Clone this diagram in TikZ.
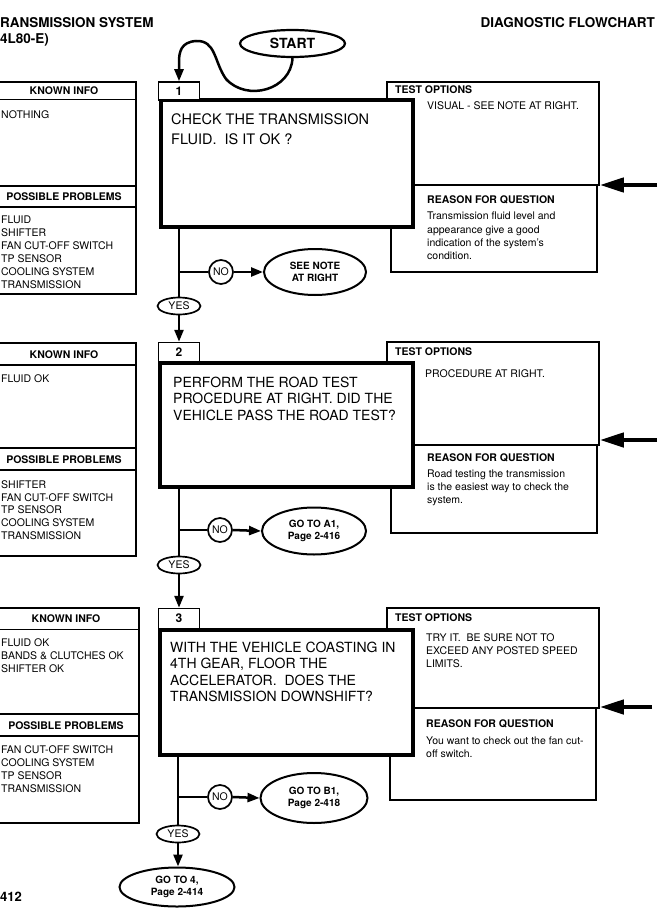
\documentclass[tikz,border=0pt]{standalone}
\usepackage{fontspec}
\setmainfont{TeX Gyre Heros}
\usetikzlibrary{shapes.geometric,arrows.meta,calc}
\newcommand\fsm{\fontsize{10.5}{13}\selectfont}
\newcommand\fhd{\fontsize{10.5}{13}\selectfont\bfseries}
\newcommand\fq{\fontsize{14}{16.3}\selectfont}
\newcommand\fqa{\fontsize{14.5}{20}\selectfont}
\newcommand\fel{\fontsize{10}{11.5}\selectfont\bfseries}
\newcommand\fti{\fontsize{13.5}{16.5}\selectfont\bfseries}
\tikzset{
  thinbox/.style={draw, line width=1.5pt},
  tbox/.style={draw, line width=1.5pt, inner sep=0pt, rectangle},
  qbox/.style={draw, line width=4.5pt, fill=white, inner sep=0pt, rectangle},
  tabbox/.style={draw, line width=1.5pt, fill=white, inner sep=0pt, rectangle, minimum width=41pt, font=\fontsize{12}{12}\selectfont\bfseries},
  hdr/.style={inner sep=0pt, font=\fhd},
  lst/.style={inner sep=0pt, anchor=north west, align=left, font=\fsm},
  qtext/.style={inner sep=0pt, anchor=north west, align=left},
  flow/.style={line width=2.5pt},
  tip/.style={-{Triangle[length=12pt,width=9pt]}},
  bigtip/.style={line width=4.2pt, -{Triangle[length=24pt,width=14pt]}},
  oval/.style={draw, ellipse, line width=2pt, inner sep=0pt, align=center, font=\fel},
  yesoval/.style={draw, ellipse, line width=1.7pt, inner sep=0pt, minimum width=43pt, minimum height=17pt, font=\fontsize{10.5}{10.5}\selectfont},
  nocirc/.style={draw, circle, line width=1.7pt, inner sep=0pt, minimum size=24pt, font=\fontsize{10.5}{10.5}\selectfont},
}
\begin{document}
\begin{tikzpicture}[x=1pt, y=-1pt]
\useasboundingbox (0,0) rectangle (667,920);
\clip (0,0) rectangle (667,920);

% titles
\node[inner sep=0pt, anchor=west, font=\fti] (title1) at (0,23) {RANSMISSION SYSTEM};
\node[inner sep=0pt, anchor=west, font=\fti] (title2) at (0,39.5) {4L80-E)};
\node[inner sep=0pt, anchor=east, font=\fti] (title3) at (655,23) {DIAGNOSTIC FLOWCHART};
\node[inner sep=0pt, anchor=west, font=\fontsize{13}{13}\selectfont\bfseries] (pg) at (0,897) {412};

% ---------- left info boxes ----------
% box 1
\draw[thinbox] (-8,82) rectangle (136,294);
\draw[thinbox] (-8,99.5) -- (136,99.5);
\draw[thinbox] (-8,186) rectangle (136,207);
\node[hdr] (k1) at (64,90.5) {KNOWN INFO};
\node[lst] (k1t) at (1,110.3) {NOTHING};
\node[hdr] (p1) at (64,197) {POSSIBLE PROBLEMS};
\node[lst] (p1t) at (1,215.2) {FLUID\\SHIFTER\\FAN CUT-OFF SWITCH\\TP SENSOR\\COOLING SYSTEM\\TRANSMISSION};
% box 2
\draw[thinbox] (-8,343) rectangle (136,556);
\draw[thinbox] (-8,365) -- (136,365);
\draw[thinbox] (-8,448) rectangle (136,470);
\node[hdr] (k2) at (64,354.5) {KNOWN INFO};
\node[lst] (k2t) at (1,374.2) {FLUID OK};
\node[hdr] (p2) at (64,459.5) {POSSIBLE PROBLEMS};
\node[lst, font=\fontsize{10.5}{12.8}\selectfont] (p2t) at (1,480.2) {SHIFTER\\FAN CUT-OFF SWITCH\\TP SENSOR\\COOLING SYSTEM\\TRANSMISSION};
% box 3
\draw[thinbox] (-8,608) rectangle (139,823);
\draw[thinbox] (-8,629.5) -- (139,629.5);
\draw[thinbox] (-8,714) rectangle (139,736);
\node[hdr] (k3) at (66,619) {KNOWN INFO};
\node[lst] (k3t) at (1,638.2) {FLUID OK\\BANDS \& CLUTCHES OK\\SHIFTER OK};
\node[hdr] (p3) at (66,725.5) {POSSIBLE PROBLEMS};
\node[lst] (p3t) at (1,745.2) {FAN CUT-OFF SWITCH\\COOLING SYSTEM\\TP SENSOR\\TRANSMISSION};

% ---------- test option / reason boxes ----------
\node[tbox, minimum width=212pt, minimum height=103pt] (t1) at (493,133.5) {};
\node[tbox, minimum width=206pt, minimum height=87pt] (r1) at (494,228.5) {};
\node[tbox, minimum width=212pt, minimum height=103pt] (t2) at (493,393.5) {};
\node[tbox, minimum width=206pt, minimum height=88pt] (r2) at (494,489) {};
\node[tbox, minimum width=212pt, minimum height=100pt] (t3) at (493,658) {};
\node[tbox, minimum width=206pt, minimum height=92pt] (r3) at (493,754) {};

\node[hdr, anchor=west] (t1h) at (395,90) {TEST OPTIONS};
\node[lst] (t1t) at (427,101.2) {VISUAL - SEE NOTE AT RIGHT.};
\node[hdr, anchor=west] (r1h) at (427,200) {REASON FOR QUESTION};
\node[lst, font=\fontsize{10.5}{13.3}\selectfont] (r1t) at (427,212) {Transmission fluid level and\\appearance give a good\\indication of the system's\\condition.};

\node[hdr, anchor=west] (t2h) at (395,352) {TEST OPTIONS};
\node[lst] (t2t) at (425,369.2) {PROCEDURE AT RIGHT.};
\node[hdr, anchor=west] (r2h) at (427,458) {REASON FOR QUESTION};
\node[lst, font=\fontsize{10.5}{12.7}\selectfont] (r2t) at (427,470) {Road testing the transmission\\is the easiest way to check the\\system.};

\node[hdr, anchor=west] (t3h) at (395,617.5) {TEST OPTIONS};
\node[lst] (t3t) at (426,633.2) {TRY IT.\ \ BE SURE NOT TO\\EXCEED ANY POSTED SPEED\\LIMITS.};
\node[hdr, anchor=west] (r3h) at (426,724) {REASON FOR QUESTION};
\node[lst] (r3t) at (426,737) {You want to check out the fan cut-\\off switch.};

% ---------- question boxes ----------
\node[qbox, minimum width=252pt, minimum height=127pt] (q1) at (287,163.5) {};
\node[qbox, minimum width=253pt, minimum height=124pt] (q2) at (286.5,425) {};
\node[qbox, minimum width=253pt, minimum height=125pt] (q3) at (286.5,692.5) {};

\node[qtext, font=\fqa] (q1t) at (171,113.2) {CHECK THE TRANSMISSION\\FLUID.\ \ IS IT OK ?};
\node[qtext, font=\fq] (q2t) at (173,377) {PERFORM THE ROAD TEST\\PROCEDURE AT RIGHT. DID THE\\VEHICLE PASS THE ROAD TEST?};
\node[qtext, font=\fq] (q3t) at (170,642) {WITH THE VEHICLE COASTING IN\\4TH GEAR, FLOOR THE\\ACCELERATOR.\ \ DOES THE\\TRANSMISSION DOWNSHIFT?};

% tabs
\node[tabbox, minimum height=18pt] (tab1) at (179,91) {1};
\node[tabbox, minimum height=19pt] (tab2) at (179,352) {2};
\node[tabbox, minimum height=20pt] (tab3) at (179,618.5) {3};

% right arrows
\coordinate (a1) at (657,185);
\coordinate (a2) at (657,440);
\coordinate (a3) at (652,707);
\draw[bigtip] (a1) -- (t1.east |- a1);
\draw[bigtip] (a2) -- (t2.east |- a2);
\draw[bigtip] (a3) -- (t3.east |- a3);

% start
\node[oval, minimum width=105pt, minimum height=27pt, line width=2.2pt, font=\fontsize{14}{14}\selectfont\bfseries] (start) at (292.5,43.5) {START};
\draw[flow, tip] (start.south) .. controls (291,90) and (247,102) .. (226,79)
   .. controls (214,62) and (216,40) .. (196,41)
   .. controls (181,42) and (179,52) .. (179,62) -- (tab1.north);

% flow 1
\node[yesoval] (yes1) at (179,306) {YES};
\node[nocirc] (no1) at (221,272) {NO};
\node[oval, minimum width=102pt, minimum height=46pt] (see) at (315,272) {SEE NOTE\\AT RIGHT};
\draw[flow] (q1.south -| yes1.north) -- (yes1.north);
\draw[flow] (no1.west) -- (no1.west -| yes1.north);
\draw[flow, tip] (no1.east) -- (see.west);
\draw[flow, tip] (yes1.south) -- (tab2.north);

% flow 2
\node[yesoval] (yes2) at (179,565) {YES};
\node[nocirc] (no2) at (220,530) {NO};
\node[oval, minimum width=104pt, minimum height=47pt] (ga1) at (314,531) {GO TO A1,\\Page 2-416};
\draw[flow] (q2.south -| yes2.north) -- (yes2.north);
\draw[flow] (no2.west) -- (no2.west -| yes2.north);
\draw[flow, tip] (no2.east) -- (ga1.west);
\draw[flow, tip] (yes2.south) -- (tab3.north);

% flow 3
\node[yesoval] (yes3) at (178,834) {YES};
\node[nocirc] (no3) at (220,797) {NO};
\node[oval, minimum width=107pt, minimum height=50pt] (gb1) at (314,798) {GO TO B1,\\Page 2-418};
\node[oval, minimum width=115pt, minimum height=39pt] (go4) at (177,887) {GO TO 4,\\Page 2-414};
\draw[flow] (q3.south -| yes3.north) -- (yes3.north);
\draw[flow] (no3.west) -- (no3.west -| yes3.north);
\draw[flow, tip] (no3.east) -- (gb1.west);
\draw[flow, tip] (yes3.south) -- (yes3.south |- go4.north);
\end{tikzpicture}
\end{document}
